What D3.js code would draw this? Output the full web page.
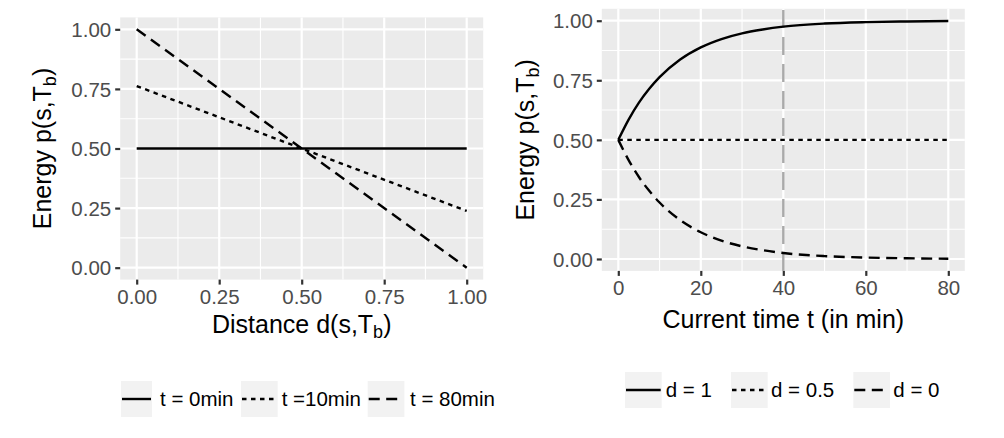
<!DOCTYPE html>
<html>
<head>
<meta charset="utf-8">
<script src="https://cdn.jsdelivr.net/npm/d3@7"></script>
<style>
  html, body { margin: 0; padding: 0; background: #fff; }
  svg { display: block; font-family: "Liberation Sans", Arial, sans-serif; }
</style>
</head>
<body>
<svg id="chart" width="1004" height="438"></svg>
<script>
// ---------- data ----------
const distances = [0, 0.5, 1];
const leftLabels = ["t = 0min", "t =10min", "t = 80min"];
const energyT0 = [0.5, 0.5, 0.5];
const energyT10 = [0.762, 0.5, 0.238];
const energyT80 = [1.0, 0.5, 0.0];

const times = [0, 2.5, 5, 7.5, 10, 15, 20, 25, 30, 35, 40, 50, 60, 70, 80];
const rightLabels = ["d = 1", "d = 0.5", "d = 0"];
const energyD1 = [0.5, 0.585, 0.656, 0.714, 0.763, 0.837, 0.888, 0.923, 0.947, 0.963, 0.975, 0.988, 0.994, 0.997, 0.999];
const energyD05 = [0.5, 0.5, 0.5, 0.5, 0.5, 0.5, 0.5, 0.5, 0.5, 0.5, 0.5, 0.5, 0.5, 0.5, 0.5];
const energyD0 = [0.5, 0.415, 0.344, 0.286, 0.237, 0.163, 0.112, 0.077, 0.053, 0.037, 0.025, 0.012, 0.006, 0.003, 0.001];
const markerTime = 40;

const leftXTicks = [0, 0.25, 0.5, 0.75, 1];
const leftXMinor = [0.125, 0.375, 0.625, 0.875];
const yTicks = [0, 0.25, 0.5, 0.75, 1];
const yMinor = [0.125, 0.375, 0.625, 0.875];
const rightXTicks = [0, 20, 40, 60, 80];
const rightXMinor = [10, 30, 50, 70];

// ---------- styles ----------
const LW = 2.4;
const TICK_FS = 20.5;
const TITLE_FS = 25;
const dashStyles = ["none", "4.5,4.5", "11,6.5"];
const svg = d3.select("#chart");

function panel(opts) {
  const g = svg.append("g");
  const x = d3.scaleLinear().domain(opts.xDomain).range(opts.xRange);
  const y = d3.scaleLinear().domain(opts.yDomain).range(opts.yRange);
  g.append("rect")
    .attr("x", opts.xRange[0]).attr("y", opts.yRange[1])
    .attr("width", opts.xRange[1] - opts.xRange[0])
    .attr("height", opts.yRange[0] - opts.yRange[1])
    .attr("fill", "#EBEBEB");
  g.selectAll(".vminor").data(opts.xMinor).join("line")
    .attr("x1", d => x(d)).attr("x2", d => x(d))
    .attr("y1", opts.yRange[0]).attr("y2", opts.yRange[1])
    .attr("stroke", "#fff").attr("stroke-width", 1.1);
  g.selectAll(".hminor").data(yMinor).join("line")
    .attr("y1", d => y(d)).attr("y2", d => y(d))
    .attr("x1", opts.xRange[0]).attr("x2", opts.xRange[1])
    .attr("stroke", "#fff").attr("stroke-width", 1.1);
  g.selectAll(".vmajor").data(opts.xTicks).join("line")
    .attr("x1", d => x(d)).attr("x2", d => x(d))
    .attr("y1", opts.yRange[0]).attr("y2", opts.yRange[1])
    .attr("stroke", "#fff").attr("stroke-width", 2.2);
  g.selectAll(".hmajor").data(yTicks).join("line")
    .attr("y1", d => y(d)).attr("y2", d => y(d))
    .attr("x1", opts.xRange[0]).attr("x2", opts.xRange[1])
    .attr("stroke", "#fff").attr("stroke-width", 2.2);

  const xAxis = d3.axisBottom(x).tickValues(opts.xTicks).tickFormat(opts.xFormat)
    .tickSizeInner(5).tickSizeOuter(0).tickPadding(opts.xPad);
  const gx = g.append("g").attr("transform", `translate(0,${opts.yRange[0]})`).call(xAxis);
  const yAxis = d3.axisLeft(y).tickValues(yTicks).tickFormat(d3.format(".2f"))
    .tickSizeInner(5).tickSizeOuter(0).tickPadding(4);
  const gy = g.append("g").attr("transform", `translate(${opts.xRange[0]},0)`).call(yAxis);
  [gx, gy].forEach(a => {
    a.select(".domain").remove();
    a.selectAll(".tick line").attr("stroke", "#333333").attr("stroke-width", 2.2);
    a.selectAll(".tick text").attr("fill", "#4D4D4D").attr("font-size", TICK_FS)
      .attr("font-family", "'Liberation Sans', Arial, sans-serif");
  });
  gy.selectAll(".tick text").attr("dy", "0.35em");
  return { g, x, y };
}

function subTitle(t, main) {
  t.append("tspan").text(main);
  t.append("tspan").attr("font-size", 18).attr("dy", 5).text("b");
  t.append("tspan").attr("dy", -5).text(")");
}

function yTitle(g, cx, cy) {
  const t = g.append("text")
    .attr("transform", `translate(${cx},${cy}) rotate(-90)`)
    .attr("text-anchor", "middle").attr("font-size", TITLE_FS).attr("fill", "#000");
  subTitle(t, "Energy p(s,T");
}

// ---------- left panel ----------
const L = panel({
  xDomain: [-0.05, 1.05], xRange: [120.2, 483.2],
  yDomain: [-0.05, 1.05], yRange: [279.6, 17.4],
  xTicks: leftXTicks, xMinor: leftXMinor, xFormat: d3.format(".2f"), xPad: 5
});
const leftSeries = [energyT0, energyT10, energyT80];
const lineL = d3.line().x((d, i) => L.x(distances[i])).y(d => L.y(d));
leftSeries.forEach((s, k) => {
  L.g.append("path").datum(s).attr("d", lineL)
    .attr("fill", "none").attr("stroke", "#000").attr("stroke-width", LW)
    .attr("stroke-dasharray", dashStyles[k]);
});
yTitle(L.g, 51, 148.5);
{
  const t = L.g.append("text").attr("x", 301.7).attr("y", 333)
    .attr("text-anchor", "middle").attr("font-size", TITLE_FS).attr("fill", "#000");
  subTitle(t, "Distance d(s,T");
}

// ---------- right panel ----------
const R = panel({
  xDomain: [-4, 84], xRange: [601.8, 964.8],
  yDomain: [-0.05, 1.05], yRange: [270.9, 8.8],
  xTicks: rightXTicks, xMinor: rightXMinor, xFormat: d3.format("d"), xPad: 5
});
R.g.append("line")
  .attr("x1", R.x(markerTime)).attr("x2", R.x(markerTime))
  .attr("y1", 270.9).attr("y2", 8.8)
  .attr("stroke", "#A9A9A9").attr("stroke-width", LW)
  .attr("stroke-dasharray", "18,9");
const rightSeries = [energyD1, energyD05, energyD0];
const lineR = d3.line().x((d, i) => R.x(times[i])).y(d => R.y(d)).curve(d3.curveMonotoneX);
rightSeries.forEach((s, k) => {
  R.g.append("path").datum(s).attr("d", lineR)
    .attr("fill", "none").attr("stroke", "#000").attr("stroke-width", LW)
    .attr("stroke-dasharray", dashStyles[k]);
});
yTitle(R.g, 534, 139.9);
R.g.append("text").attr("x", 783.3).attr("y", 328)
  .attr("text-anchor", "middle").attr("font-size", TITLE_FS).attr("fill", "#000")
  .text("Current time t (in min)");

// ---------- legends ----------
function legend(labels, keyXs, keyW, textXs, cy) {
  const lg = svg.append("g");
  labels.forEach((lab, k) => {
    lg.append("rect").attr("x", keyXs[k]).attr("y", cy - 18)
      .attr("width", keyW[k]).attr("height", 36).attr("fill", "#F2F2F2");
    lg.append("line").attr("x1", keyXs[k] + 1).attr("x2", keyXs[k] + keyW[k] - 1)
      .attr("y1", cy).attr("y2", cy)
      .attr("stroke", "#000").attr("stroke-width", LW)
      .attr("stroke-dasharray", dashStyles[k]);
    lg.append("text").attr("x", textXs[k]).attr("y", cy).attr("dy", "0.35em")
      .attr("font-size", TICK_FS).attr("fill", "#000").text(lab);
  });
}
legend(leftLabels, [121, 241, 367.7], [31, 36.7, 36.7], [160, 281.7, 410], 399);
legend(rightLabels, [625, 731, 853.3], [36.7, 36.7, 36.7], [665.7, 771, 893.3], 390);
</script>
</body>
</html>
